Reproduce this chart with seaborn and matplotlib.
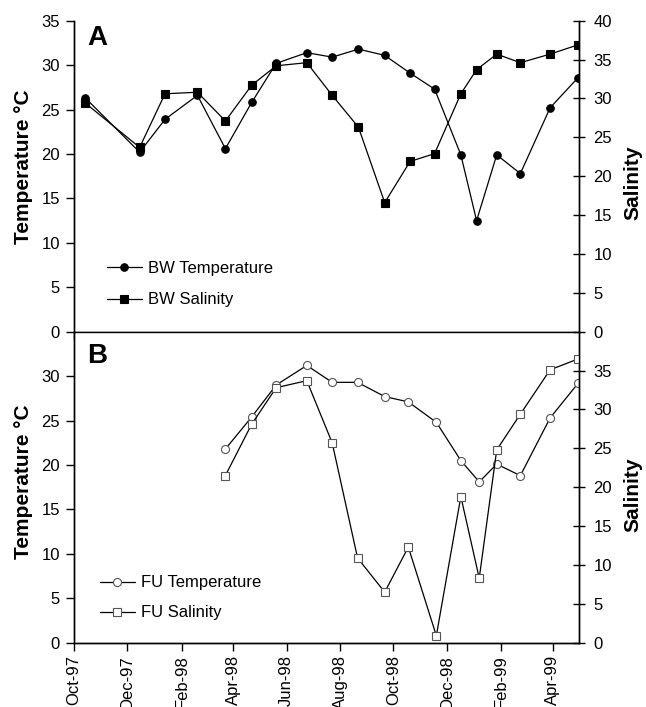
import matplotlib
matplotlib.use("Agg")
import matplotlib.pyplot as plt
import matplotlib.dates as mdates
import seaborn as sns
import pandas as pd

# ---------------- data ----------------
bw_dates = ["1997-10-14", "1997-12-15", "1998-01-13", "1998-02-19", "1998-03-23",
            "1998-04-22", "1998-05-20", "1998-06-24", "1998-07-23", "1998-08-22",
            "1998-09-21", "1998-10-20", "1998-11-17", "1998-12-17", "1999-01-04",
            "1999-01-27", "1999-02-23", "1999-03-29", "1999-04-30"]
bw_temp = [26.3, 20.2, 23.9, 26.6, 20.6, 25.8, 30.2, 31.4, 30.9, 31.8,
           31.1, 29.1, 27.3, 19.9, 12.5, 19.9, 17.8, 25.2, 28.6]
bw_sal = [29.4, 23.7, 30.6, 30.8, 27.1, 31.7, 34.2, 34.6, 30.4, 26.3,
          16.6, 21.9, 22.9, 30.6, 33.7, 35.7, 34.6, 35.7, 36.9]

fu_dates = ["1998-03-23", "1998-04-22", "1998-05-20", "1998-06-24", "1998-07-23",
            "1998-08-21", "1998-09-21", "1998-10-18", "1998-11-19", "1998-12-17",
            "1999-01-07", "1999-01-27", "1999-02-23", "1999-03-29", "1999-04-30"]
fu_temp = [21.8, 25.4, 29.0, 31.2, 29.3, 29.3, 27.7, 27.1, 24.8, 20.5,
           18.1, 20.1, 18.8, 25.3, 29.2]
fu_sal = [21.5, 28.1, 32.8, 33.7, 25.7, 10.9, 6.5, 12.3, 0.9, 18.8,
          8.3, 24.8, 29.4, 35.1, 36.5]

x_tick_dates = ["1997-10-01", "1997-12-01", "1998-02-01", "1998-04-01", "1998-06-01",
                "1998-08-01", "1998-10-01", "1998-12-01", "1999-02-01", "1999-04-01"]
x_limits = ["1997-10-01", "1999-05-01"]

temp_ticks_top = [0, 5, 10, 15, 20, 25, 30, 35]
sal_ticks_top = [0, 5, 10, 15, 20, 25, 30, 35, 40]
temp_ticks_bot = [0, 5, 10, 15, 20, 25, 30]
sal_ticks_bot = [0, 5, 10, 15, 20, 25, 30, 35]

# ---------------- style ----------------
sns.set_style("ticks")
plt.rcParams["font.family"] = ["Liberation Sans", "DejaVu Sans"]
plt.rcParams["axes.linewidth"] = 1.0
plt.rcParams["axes.edgecolor"] = "black"
plt.rcParams["text.color"] = "black"
plt.rcParams["axes.labelcolor"] = "black"
plt.rcParams["xtick.color"] = "black"
plt.rcParams["ytick.color"] = "black"

fig = plt.figure(figsize=(6.46, 7.07), dpi=100)
left = 74 / 646
width = (579 - 74) / 646
top_bottom = 1 - 331.7 / 707
top_height = (331.7 - 20.7) / 707
bot_bottom = 1 - 642.7 / 707
bot_height = (642.7 - 331.7) / 707

ax_top = fig.add_axes([left, top_bottom, width, top_height])
ax_bot = fig.add_axes([left, bot_bottom, width, bot_height])

xd = pd.to_datetime(x_tick_dates)
xl = pd.to_datetime(x_limits)


def draw_panel(ax, dates, temp, sal, tlabel, slabel, filled, tticks, sticks,
               letter, letter_y, leg_xy, leg_sp, show_xlabels, label_y):
    d = pd.to_datetime(dates)
    ax2 = ax.twinx()
    if filled:
        mfc = "black"
        mec = "black"
        ms = 5.4
    else:
        mfc = "white"
        mec = "#555555"
        ms = 5.8
    sns.lineplot(x=d, y=temp, ax=ax, color="black", linewidth=0.9, marker="o",
                 markersize=ms, markerfacecolor=mfc, markeredgecolor=mec,
                 markeredgewidth=0.8, label=tlabel)
    sns.lineplot(x=d, y=sal, ax=ax2, color="black", linewidth=0.9, marker="s",
                 markersize=ms, markerfacecolor=mfc, markeredgecolor=mec,
                 markeredgewidth=0.8, label=slabel)
    for a in (ax, ax2):
        lg = a.get_legend()
        if lg is not None:
            lg.remove()
        a.spines["top"].set_visible(False)
    ax.set_xlim(xl[0], xl[1])
    ax.set_ylim(0, 35)
    ax2.set_ylim(0, 40)
    ax.set_yticks(tticks)
    ax2.set_yticks(sticks)
    ax.set_xticks(xd)
    ax.xaxis.set_major_formatter(mdates.DateFormatter("%b-%y"))
    ax.tick_params(axis="x", direction="out", length=6, width=1, labelsize=12,
                   labelrotation=90, pad=3, labelbottom=show_xlabels)
    ax.tick_params(axis="y", direction="out", length=6, width=1, labelsize=12, pad=4)
    ax2.tick_params(axis="y", direction="inout", length=9, width=1, labelsize=12, pad=6)
    ax.set_xlabel("")
    ax.set_ylabel("Temperature °C", fontsize=15, fontweight="bold")
    ax2.set_ylabel("Salinity", fontsize=15, fontweight="bold")
    ax.yaxis.label.set_va("center")
    ax2.yaxis.label.set_va("center")
    ax2.yaxis.label.set_rotation(90)
    ax.yaxis.set_label_coords(-0.1, label_y[0])
    ax2.yaxis.set_label_coords(1.107, label_y[1])
    ax.text(0.026, letter_y, letter, transform=ax.transAxes, fontsize=20,
            fontweight="bold", ha="left", va="baseline")
    h1, l1 = ax.get_legend_handles_labels()
    h2, l2 = ax2.get_legend_handles_labels()
    ax2.legend(h1 + h2, l1 + l2, loc="center left", bbox_to_anchor=leg_xy,
               frameon=False, fontsize=12, handlelength=2.1, handletextpad=0.4,
               labelspacing=leg_sp, borderpad=0, borderaxespad=0)
    for t in ax.get_xticklabels():
        t.set_ha("center")
    return ax2


draw_panel(ax_top, bw_dates, bw_temp, bw_sal, "BW Temperature", "BW Salinity",
           True, temp_ticks_top, sal_ticks_top, "A", 0.922, (0.065, 0.153), 1.0,
           False, (0.53, 0.478))
draw_panel(ax_bot, fu_dates, fu_temp, fu_sal, "FU Temperature", "FU Salinity",
           False, temp_ticks_bot, sal_ticks_bot, "B", 0.898, (0.051, 0.144), 0.9,
           True, (0.517, 0.475))

fig.savefig("out.png", dpi=100)
